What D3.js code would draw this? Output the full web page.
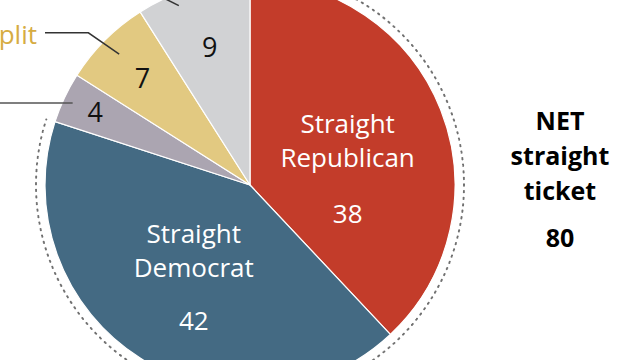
<!DOCTYPE html>
<html>
<head>
<meta charset="utf-8">
<script src="https://cdn.jsdelivr.net/npm/d3@7"></script>
<style>
  html, body { margin: 0; padding: 0; background: #fff; }
  svg { display: block; }
</style>
</head>
<body>
<svg id="chart" width="640" height="360"></svg>
<script>
// ---- data ----
const categories = ["Straight Republican", "Straight Democrat", "Other", "Split", "Don't know"];
const values = [38, 42, 4, 7, 9];
const colors = ["#C33C2A", "#446A83", "#ABA5B1", "#E2C981", "#D1D2D4"];
const bigLabelLines = [["Straight", "Republican"], ["Straight", "Democrat"], null, null, null];
const netLabel = ["NET", "straight", "ticket"];
const netValue = 80;
const splitLabel = "Split";

// ---- layout ----
const W = 640, H = 360;
const cx = 250, cy = 185, R = 205, dotR = 214;
const FONT = "'Open Sans', 'Liberation Sans', sans-serif";

const svg = d3.select("#chart");
const g = svg.append("g").attr("transform", `translate(${cx},${cy})`);

const pie = d3.pie().sort(null).value(d => d)(values);
const arc = d3.arc().innerRadius(0).outerRadius(R);

g.selectAll("path.slice").data(pie).join("path")
  .attr("class", "slice")
  .attr("d", arc)
  .attr("fill", (d, i) => colors[i])
  .attr("stroke", "#fff")
  .attr("stroke-width", 1.2);

// polar helper: angle clockwise from top
const pt = (a, r) => [r * Math.sin(a), -r * Math.cos(a)];
const mid = d => (d.startAngle + d.endAngle) / 2;

// dotted arc around the straight-ticket slices
const straightEnd = pie[1].endAngle;
g.append("path")
  .attr("d", d3.arc().innerRadius(dotR).outerRadius(dotR).startAngle(0).endAngle(straightEnd)())
  .attr("fill", "none")
  .attr("stroke", "#707070")
  .attr("stroke-width", 2.1)
  .attr("stroke-linecap", "round")
  .attr("stroke-dasharray", "0,6.6");

// big labels inside the straight slices
const bigOffsets = [-13, -31];
[0, 1].forEach(i => {
  const p = pt(mid(pie[i]), 105);
  const t = g.append("g").attr("transform", `translate(${p[0]},${p[1] + bigOffsets[i]})`);
  bigLabelLines[i].forEach((line, k) => {
    t.append("text").attr("x", 0).attr("y", k * 34)
      .attr("text-anchor", "middle")
      .attr("font-family", FONT).attr("font-size", 26)
      .attr("fill", "#fff").text(line);
  });
  t.append("text").attr("x", 0).attr("y", i === 0 ? 90 : 87)
    .attr("text-anchor", "middle")
    .attr("font-family", FONT).attr("font-size", 26)
    .attr("fill", "#fff").text(values[i]);
});

// number labels in small slices
const smallR = [null, null, 171, 152, 144];
[2, 3, 4].forEach(i => {
  const p = pt(mid(pie[i]), smallR[i]);
  g.append("text").attr("x", p[0]).attr("y", p[1] + 10)
    .attr("text-anchor", "middle")
    .attr("font-family", FONT).attr("font-size", 27)
    .attr("fill", "#111").text(values[i]);
});

// leader lines
// slice 4 (other)
{
  const p = pt(mid(pie[2]), 196);
  g.append("path").attr("d", `M${p[0]},${p[1] + 1.5}H${-cx - 10}`)
    .attr("stroke", "#555").attr("stroke-width", 1.6).attr("fill", "none");
}
// slice 7 (split)
{
  const a = mid(pie[3]);
  const p1 = pt(a, 185), p2 = pt(a - 0.03, 222);
  g.append("path").attr("d", `M${p1[0]},${p1[1]}L${p2[0]},${p2[1]}H${45 - cx}`)
    .attr("stroke", "#333").attr("stroke-width", 1.5).attr("fill", "none");
  g.append("text").attr("x", 37 - cx).attr("y", p2[1] + 11)
    .attr("text-anchor", "end")
    .attr("font-family", FONT).attr("font-size", 26)
    .attr("fill", "#D6AC42").text(splitLabel);
}
// slice 9
{
  const p = pt(mid(pie[4]) - 0.095, 193);
  g.append("path").attr("d", `M${p[0]},${p[1]}L${p[0] - 30},${p[1] - 15}`)
    .attr("stroke", "#333").attr("stroke-width", 1.5).attr("fill", "none");
}

// NET label on the right
const net = svg.append("g").attr("transform", "translate(560,0)");
netLabel.forEach((line, k) => {
  net.append("text").attr("x", 0).attr("y", 130 + k * 35)
    .attr("text-anchor", "middle")
    .attr("font-family", FONT).attr("font-weight", 700).attr("font-size", 25)
    .attr("fill", "#000").text(line);
});
net.append("text").attr("x", 0).attr("y", 247)
  .attr("text-anchor", "middle")
  .attr("font-family", FONT).attr("font-weight", 700).attr("font-size", 25)
  .attr("fill", "#000").text(netValue);
</script>
</body>
</html>
